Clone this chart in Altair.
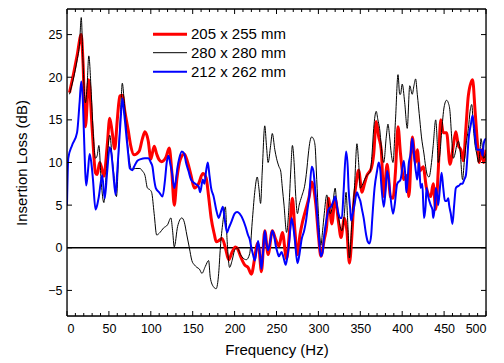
import altair as alt
import pandas as pd

SERIES = ["205 x 255 mm", "280 x 280 mm", "212 x 262 mm"]
COLORS = ["#ff0000", "#000000", "#0000ff"]
WIDTHS = [3.0, 1.0, 2.0]

red_points = [(3,18.2),(8,20.5),(12,22.5),(17,25.0),(19,22),(22,14.2),(26,19.7),(30,14),(34,8.8),(36,8.6),(39,10),(41,9.5),(44,8.4),(48,12),(51,15.2),(54,13.5),(57,11.6),(60,15),(63,17.8),(66,17.9),(69,16),(73,13.8),(76,12),(80,10.9),(86,11.3),(90,12.8),(93,13.6),(97,12.5),(100,10.4),(104,11.9),(107,11),(110,10.3),(113,10.1),(118,10.6),(122,11.7),(125,9),(128,5.0),(131,8),(135,10.3),(140,11),(144,10),(148,8.5),(152,7.0),(157,7.5),(162,8.7),(166,8.2),(169,6),(172,3.5),(176,1.5),(178,0.7),(182,0.9),(185,1.1),(189,0),(193,-1.4),(197,-0.5),(201,0.1),(204,-0.2),(207,-1),(212,-2),(216,-2.3),(220,-3.1),(224,-1.2),(227,0.5),(229,0),(232,-2.8),(236,2.0),(240,-0.8),(245,2.0),(249,1.0),(253,0.2),(257,1.8),(262,-1.3),(266,2.5),(269,5.8),(272,2),(275,-0.8),(278,1.5),(281,3),(285,4.5),(289,6),(292,7.7),(297,5),(300,1.5),(303,-1),(307,1),(310,2.7),(312,5.8),(316,2.8),(320,5.8),(324,3),(327,1.2),(331,3.5),(334,2),(337,-1.8),(340,1.5),(342,5),(345,7.5),(348,9.1),(352,6.5),(355,7.5),(358,8.5),(363,9.3),(366,11),(369,14.8),(372,13),(375,11.5),(378,6),(382,9.8),(386,6),(389,5.8),(392,9),(395,14.2),(398,11),(402,8),(406,8.5),(408,6),(412,13),(416,10),(418,11.5),(421,9),(425,9.5),(429,7),(434,6),(437,7.5),(440,4.5),(443,9),(446,15),(449,13.5),(453,13.5),(457,9.8),(461,12),(464,13.6),(467,12),(470,11.5),(473,10.2),(476,14),(479,17.9),(484,19.7),(487,16),(490,12),(492,10),(495,11.5),(497,10),(500,11.5)]

black_points = [(3,18),(8,20),(12,22),(15,24),(17,27),(19,22),(22,17),(24,19),(26,22.5),(29,18),(31,14),(34,10.5),(36,10.8),(38,12),(41,7.5),(44,5.3),(47,9),(51,13.2),(54,10.5),(56,8.5),(59,6),(62,12),(64,16),(66,19.3),(68,17.5),(70,15),(73,11.5),(77,9.2),(82,9.3),(87,9.3),(90,9),(93,8.5),(96,7),(99,6.8),(101,6.5),(104,4),(107,1.5),(111,1.8),(115,2.3),(120,2.7),(124,3.5),(126,2),(128,0.1),(132,2.5),(137,3.5),(140,3),(143,1.5),(146,0),(149,-1.5),(152,-2),(155,-2.3),(158,-2.5),(161,-3),(165,-2.2),(169,-1.5),(171,-3.5),(175,-4.6),(178,-4.8),(181,-3),(183,0),(186,3),(189,4.8),(191,1),(194,-2.3),(197,-1.5),(200,-0.3),(203,0),(207,-0.8),(210,-1.2),(214,-1.4),(218,-0.7),(221,3),(224,6.5),(227,8.3),(229,7),(231,5.2),(233,9),(236,14.3),(238,12),(240,10),(243,12),(245,13.4),(248,11.5),(250,10.5),(253,9.5),(255,9),(257,7),(259,5),(262,1.8),(265,5),(267,9),(269,12),(271,10),(273,6),(275,4),(277,5),(280,6),(284,7.5),(286,9),(288,11),(290,12.5),(292,13),(294,12.8),(296,12),(298,8),(300,4),(303,0.3),(305,2),(307,4),(310,6.2),(312,5),(314,4),(317,5),(320,7),(322,5),(325,3),(328,2),(331,4),(333,6.5),(335,3),(337,-1.2),(340,3),(343,7),(346,12.2),(348,10),(350,7),(353,7.5),(355,8),(358,8.5),(362,9),(364,11),(366,14),(369,16),(371,15),(373,14),(376,11),(378,10),(381,13),(383,14.5),(385,13),(387,11),(389,10),(392,15),(395,20.3),(397,18),(398,18),(400,19.2),(403,17),(406,14),(409,19),(412,18),(414,19),(416,19.8),(418,18),(421,15),(423,13),(426,11),(428,9.5),(430,8.5),(432,8.3),(435,10),(437,12),(440,15),(442,12),(443,10),(445,11),(447,13.5),(450,16.5),(453,17.3),(455,17),(457,16),(459,13),(461,10.5),(463,11),(465,12),(467,12.5),(469,11.5),(472,8),(474,10),(476,12),(479,14),(481,16),(483,16.8),(485,14),(487,12),(489,11),(491,10),(493,11.5),(494,12.8),(496,11.5),(497,10.5),(500,11)]

blue_points = [(0,5),(1.5,10.5),(6,12),(12,13.5),(15,17),(17,19.5),(19,17),(20,14),(23,7.3),(25,9),(27,11),(29,10),(31,8),(34,4.5),(36,5),(38,6),(42,8.5),(45,5.8),(48,9),(51,11.8),(53,11),(55,9),(58,6.2),(60,9),(62,12),(64,15),(66,17.5),(68,16),(70,14),(73,11),(75,9.3),(78,9.1),(80,9.5),(84,10.2),(88,10.4),(93,10.5),(97,10.5),(100,10),(102,9.5),(104,8),(106,7),(110,6.5),(114,6),(117,8),(119,10),(121,10.8),(123,10),(125,9),(128,7),(130,8),(132,9.5),(134,10.5),(137,11.3),(140,11),(142,10),(145,9),(148,8),(153,7.5),(157,7.2),(159,6.5),(162,8),(164,7.5),(166,9),(168,10),(170,8.5),(172,7),(175,6),(178,4.5),(181,3.5),(183,4),(186,4.8),(188,3.5),(191,1.8),(193,2.3),(196,3),(200,4),(203,4.2),(206,4),(210,3.3),(213,2.5),(216,1.5),(218,1),(220,0),(222,-0.8),(224,-1.5),(226,-0.5),(228,0.8),(230,-0.5),(232,-2.5),(234,-0.5),(236,2),(238,0.5),(240,-0.3),(243,1),(245,2),(247,1.5),(249,0.3),(251,-0.5),(253,-1),(256,-0.5),(258,-1),(261,-2),(263,-1),(265,0.5),(268,3.5),(270,2.5),(272,0.8),(275,-1.8),(277,-1),(280,1),(283,2),(285,3),(287,4.5),(289,6),(292,9.5),(294,9),(296,7),(298,4.5),(300,2),(303,-1),(305,-0.5),(307,1.5),(310,3.5),(312,4.5),(315,4.8),(318,5.5),(320,6),(322,5),(324,4),(326,3.5),(328,3.5),(330,6.5),(333,11.3),(335,9.5),(336,7),(338,4.5),(339,3.2),(341,4),(343,5),(346,6.5),(348,6),(350,5.5),(352,4.5),(354,3.5),(357,1.5),(359,0.7),(361,0.5),(363,1.5),(364,3),(367,7),(370,9),(372,10),(374,9),(375,7.5),(378,4.8),(380,6.5),(382,9),(384,8),(386,6),(389,4),(391,5),(394,7.5),(398,8),(402,10.2),(404,8),(405,6.5),(408,10),(410,11),(412,12.8),(414,11),(415,10),(417,8.5),(418,8),(420,10),(422,7),(424,7.5),(426,3.5),(428,5),(429,7),(431,6),(434,5),(436,4.5),(437,3.5),(439,5),(440,7),(442,6),(443,5),(445,7),(447,8.8),(449,7),(451,5.5),(453,5.5),(455,5.8),(456,5),(458,4),(460,2.8),(462,5),(464,7),(466,7.2),(468,7.3),(470,7.5),(472,7.5),(474,8),(476,8.5),(478,11),(479,12.5),(482,14.5),(484,15.5),(486,14),(487,13),(489,11.5),(490,11.5),(492,11.5),(494,11.5),(496,10.8),(497,12),(498,12.5),(500,12.8)]

x_major = list(range(0, 501, 50))
x_minor = [v for v in range(0, 501, 10) if v % 50 != 0]
y_major = [-5, 0, 5, 10, 15, 20, 25]

W, H = 419, 307
FONT = "Liberation Sans"

xs = alt.Scale(domain=[0, 500], nice=False, zero=False)
ys = alt.Scale(domain=[-8, 28], nice=False, zero=False)

x_axis = alt.Axis(values=x_major, title="Frequency (Hz)", ticks=False, domain=False, grid=False,
                  labelFontSize=12.5, labelPadding=6, titleFontSize=15, titleFontWeight="normal",
                  titlePadding=8, labelFont=FONT, titleFont=FONT, labelColor="black", titleColor="black")
y_axis = alt.Axis(values=y_major, title="Insertion Loss (dB)", ticks=False, domain=False, grid=False,
                  labelFontSize=12.5, labelPadding=5, titleFontSize=15, titleFontWeight="normal",
                  titlePadding=18, labelFont=FONT, titleFont=FONT, labelColor="black", titleColor="black")

layers = []

zero = alt.Chart(pd.DataFrame({"y": [0]})).mark_rule(color="black", strokeWidth=1.5).encode(
    y=alt.Y("y:Q", scale=ys, axis=y_axis))
layers.append(zero)

for name, pts, col, sw in zip(SERIES, [red_points, black_points, blue_points], COLORS, WIDTHS):
    df = pd.DataFrame(pts, columns=["hz", "db"])
    layers.append(alt.Chart(df).mark_line(color=col, strokeWidth=sw, interpolate="monotone", clip=True).encode(
        x=alt.X("hz:Q", scale=xs, axis=x_axis),
        y=alt.Y("db:Q", scale=ys, axis=y_axis)))

# inward ticks
xmaj = pd.DataFrame({"v": x_major})
xmin = pd.DataFrame({"v": x_minor})
ymaj = pd.DataFrame({"v": y_major})
tk = dict(color="black", strokeWidth=1)
layers.append(alt.Chart(xmaj).mark_rule(**tk).encode(x=alt.X("v:Q", scale=xs, axis=x_axis), y=alt.value(H), y2=alt.value(H - 5)))
layers.append(alt.Chart(xmin).mark_rule(**tk).encode(x=alt.X("v:Q", scale=xs, axis=x_axis), y=alt.value(H), y2=alt.value(H - 3)))
layers.append(alt.Chart(xmaj).mark_rule(**tk).encode(x=alt.X("v:Q", scale=xs, axis=x_axis), y=alt.value(0), y2=alt.value(5)))
layers.append(alt.Chart(xmin).mark_rule(**tk).encode(x=alt.X("v:Q", scale=xs, axis=x_axis), y=alt.value(0), y2=alt.value(3)))
layers.append(alt.Chart(ymaj).mark_rule(**tk).encode(y=alt.Y("v:Q", scale=ys, axis=y_axis), x=alt.value(0), x2=alt.value(5)))
layers.append(alt.Chart(ymaj).mark_rule(**tk).encode(y=alt.Y("v:Q", scale=ys, axis=y_axis), x=alt.value(W), x2=alt.value(W - 5)))

# plot frame
fr = pd.DataFrame({"k": [0]})
fs = dict(color="black", strokeWidth=1.3)
layers.append(alt.Chart(fr).mark_rule(**fs).encode(x=alt.value(0), y=alt.value(0), y2=alt.value(H)))
layers.append(alt.Chart(fr).mark_rule(**fs).encode(x=alt.value(W), y=alt.value(0), y2=alt.value(H)))
layers.append(alt.Chart(fr).mark_rule(**fs).encode(y=alt.value(0), x=alt.value(0), x2=alt.value(W)))
layers.append(alt.Chart(fr).mark_rule(**fs).encode(y=alt.value(H), x=alt.value(0), x2=alt.value(W)))

# legend
leg_y = [25.3, 43.7, 62.7]
for name, col, sw, ly in zip(SERIES, COLORS, WIDTHS, leg_y):
    d = pd.DataFrame({"label": [name]})
    layers.append(alt.Chart(d).mark_rule(color=col, strokeWidth=sw).encode(
        x=alt.value(86), x2=alt.value(120), y=alt.value(ly)))
    layers.append(alt.Chart(d).mark_text(align="left", baseline="middle", fontSize=15, font=FONT, color="black").encode(
        x=alt.value(124), y=alt.value(ly), text="label:N"))

chart = alt.layer(*layers).properties(
    width=W, height=H,
    autosize=alt.AutoSizeParams(type="none"),
    padding={"left": 59, "top": 1, "right": 10, "bottom": 46},
).configure_view(stroke="black", strokeWidth=1).configure(background="white")

chart.save("out.html", embed_options={"renderer": "svg", "actions": False})
